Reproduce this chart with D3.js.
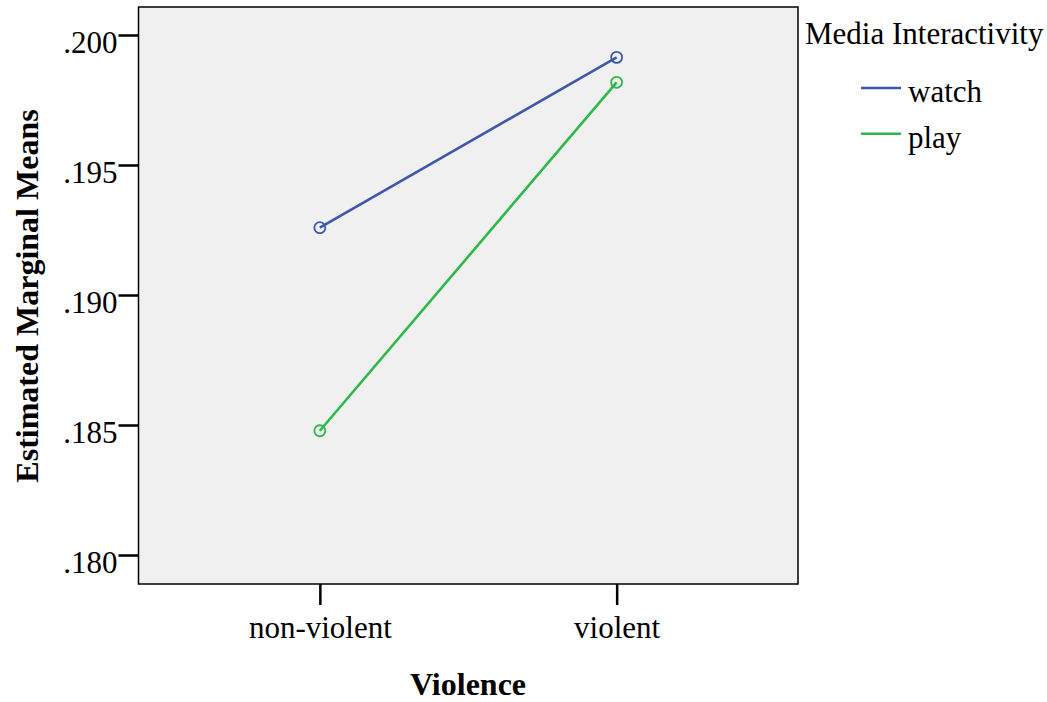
<!DOCTYPE html>
<html>
<head>
<meta charset="utf-8">
<script src="https://cdn.jsdelivr.net/npm/d3@7"></script>
<style>
	body { margin: 0; background: #fff; }
	text { font-family: "Liberation Serif", "Times New Roman", serif; fill: #000; }
</style>
</head>
<body>
<svg id="chart" width="1047" height="702"></svg>
<script>
// estimated marginal means
var categories = ["non-violent", "violent"];
var seriesNames = ["watch", "play"];
var watchValues = [0.19259, 0.19914];
var playValues = [0.18478, 0.19818];
var yTicks = [0.180, 0.185, 0.190, 0.195, 0.200];
var colors = ["#3d57ab", "#2db84a"];

var series = [
	{name: seriesNames[0], values: watchValues, color: colors[0]},
	{name: seriesNames[1], values: playValues, color: colors[1]}
];

var svg = d3.select("#chart"),
	margin = {left: 138.5, top: 7, right: 249, bottom: 118};

var x = d3.scalePoint()
	.domain(categories)
	.range([margin.left, 1047 - margin.right])
	.padding(0.611);

var y = d3.scaleLinear()
	.domain([0.178885, 0.201077])
	.range([702 - margin.bottom, margin.top]);

// plot background
svg.append("rect")
	.attr("x", margin.left)
	.attr("y", margin.top)
	.attr("width", 1047 - margin.right - margin.left)
	.attr("height", 702 - margin.bottom - margin.top)
	.attr("fill", "#f0f0f0")
	.attr("stroke", "#000")
	.attr("stroke-width", 1.5);

// y axis
var yAxis = svg.append("g")
	.attr("transform", "translate(" + margin.left + ",0)")
	.call(d3.axisLeft(y)
		.tickValues(yTicks)
		.tickSize(20)
		.tickPadding(1)
		.tickFormat(function(d) { return d3.format(".3f")(d).replace(/^0/, ""); }));
yAxis.select(".domain").remove();
yAxis.selectAll(".tick line")
	.attr("stroke", "#000")
	.attr("stroke-width", 2.5);
yAxis.selectAll(".tick text")
	.attr("font-family", "Liberation Serif")
	.attr("font-size", 31)
	.attr("dy", "0.72em")
	.attr("y", -5)
	.attr("fill", "#000");

// x axis
var xAxis = svg.append("g")
	.attr("transform", "translate(0," + (702 - margin.bottom) + ")")
	.call(d3.axisBottom(x).tickSize(21).tickPadding(11));
xAxis.select(".domain").remove();
xAxis.selectAll(".tick line")
	.attr("stroke", "#000")
	.attr("stroke-width", 2.5);
xAxis.selectAll(".tick text")
	.attr("font-family", "Liberation Serif")
	.attr("font-size", 31)
	.attr("fill", "#000");

// axis titles
svg.append("text")
	.attr("x", 468)
	.attr("y", 695)
	.attr("text-anchor", "middle")
	.attr("font-size", 32)
	.attr("font-weight", "bold")
	.text("Violence");

svg.append("text")
	.attr("transform", "translate(38," + 296 + ") rotate(-90)")
	.attr("text-anchor", "middle")
	.attr("font-size", 32)
	.attr("font-weight", "bold")
	.text("Estimated Marginal Means");

// lines and markers
var line = d3.line()
	.x(function(d, i) { return x(categories[i]); })
	.y(function(d) { return y(d); });

var groups = svg.selectAll(".series")
	.data(series)
	.enter().append("g")
	.attr("class", "series");

groups.append("path")
	.attr("d", function(d) { return line(d.values); })
	.attr("fill", "none")
	.attr("stroke", function(d) { return d.color; })
	.attr("stroke-width", 2.6);

groups.selectAll("circle")
	.data(function(d) {
		return d.values.map(function(v, i) { return {v: v, i: i, color: d.color}; });
	})
	.enter().append("circle")
	.attr("cx", function(d) { return x(categories[d.i]); })
	.attr("cy", function(d) { return y(d.v); })
	.attr("r", 5.5)
	.attr("fill", "none")
	.attr("stroke", function(d) { return d.color; })
	.attr("stroke-width", 1.8);

// legend
var legend = svg.append("g");
legend.append("text")
	.attr("x", 805)
	.attr("y", 44)
	.attr("font-size", 31)
	.text("Media Interactivity");

var items = legend.selectAll(".item")
	.data(series)
	.enter().append("g")
	.attr("class", "item")
	.attr("transform", function(d, i) { return "translate(0," + (88 + i * 45.7) + ")"; });
items.append("line")
	.attr("x1", 861)
	.attr("x2", 901)
	.attr("stroke", function(d) { return d.color; })
	.attr("stroke-width", 2.6);
items.append("text")
	.attr("x", 908)
	.attr("y", 14)
	.attr("font-size", 31)
	.text(function(d) { return d.name; });
</script>
</body>
</html>
